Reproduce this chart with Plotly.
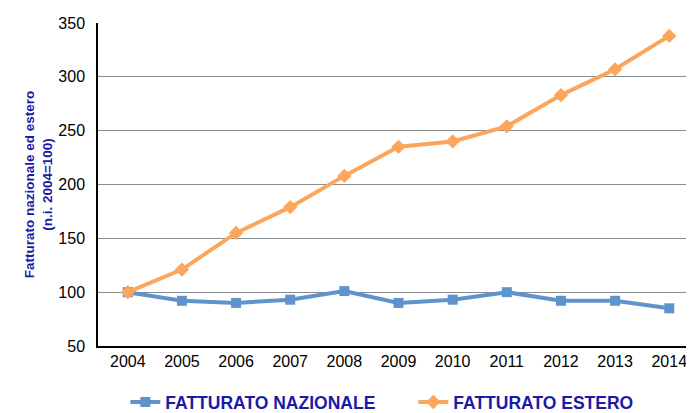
import plotly.graph_objects as go

years = ["2004", "2005", "2006", "2007", "2008", "2009", "2010", "2011", "2012", "2013", "2014"]
nazionale = [100, 92, 90, 93, 101, 90, 93, 100, 92, 92, 85]
estero = [100, 121, 155, 179, 208, 235, 240, 254, 283, 307, 338]
y_ticks = [50, 100, 150, 200, 250, 300, 350]

blue = "#5F93CB"
orange = "#FBA65C"
text_blue = "#1A1AA6"

fig = go.Figure()
fig.add_trace(go.Scatter(
    x=years, y=nazionale, name="FATTURATO NAZIONALE", mode="lines+markers",
    line=dict(color=blue, width=4), marker=dict(symbol="square", size=10, color=blue)))
fig.add_trace(go.Scatter(
    x=years, y=estero, name="FATTURATO ESTERO", mode="lines+markers",
    line=dict(color=orange, width=4), marker=dict(symbol="diamond", size=11, color=orange)))

fig.update_layout(
    width=686, height=405,
    margin=dict(l=90, r=2, t=15, b=67, autoexpand=False),
    plot_bgcolor="white", paper_bgcolor="white",
    font=dict(family="Liberation Sans, Arial", size=16, color="black"),
    showlegend=True,
    legend=dict(orientation="h", x=0.046, xanchor="left", y=-0.118, yanchor="top",
                font=dict(size=17.5, color=text_blue, family="Liberation Sans, Arial", weight="bold"),
                itemwidth=30, entrywidth=243, entrywidthmode="pixels"),
    xaxis=dict(type="category", range=[-0.55, 10.42], showgrid=False, showline=True,
               linecolor="black", linewidth=1.5, ticks="", tickfont=dict(size=16)),
    yaxis=dict(range=[50, 350], tickvals=y_ticks, showgrid=True, gridcolor="#8C8C8C",
               gridwidth=1, showline=True, linecolor="black", linewidth=1.5, zeroline=False,
               ticks="", ticklabelstandoff=8, tickfont=dict(size=16),
               title=dict(text="<b>Fatturato nazionale ed estero<br>(n.i. 2004=100)</b>",
                          font=dict(size=13.5, color=text_blue), standoff=3)),
)

fig.write_html("out.html")
